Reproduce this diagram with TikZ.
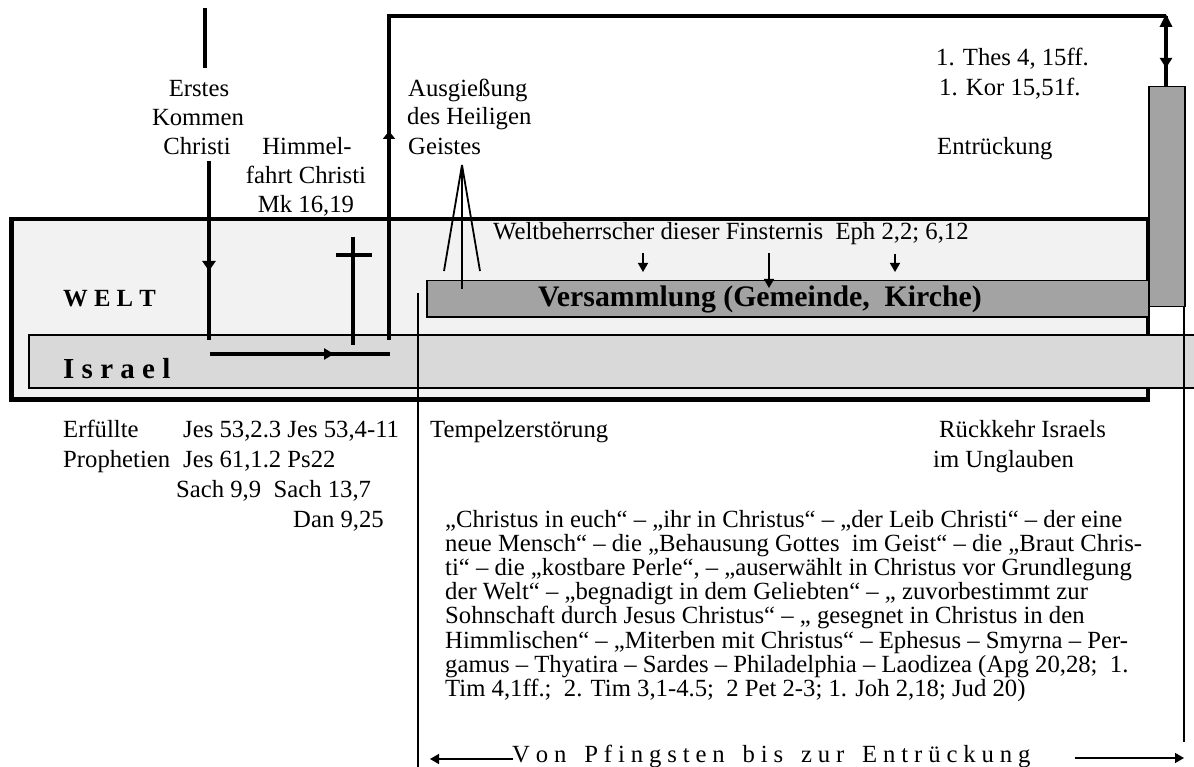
\documentclass[tikz,border=0pt]{standalone}
\usepackage{fontspec}
\setmainfont{Liberation Serif}
\usetikzlibrary{arrows.meta}
\definecolor{weltfill}{HTML}{F2F2F2}
\definecolor{israelfill}{HTML}{D9D9D9}
\definecolor{gemfill}{HTML}{A3A3A3}
\makeatletter
\newcommand\lsp[1]{\@tfor\lspch:=#1\do{\lspch\kern5.9pt}}
\makeatother
\begin{document}
\begin{tikzpicture}[x=1pt,y=-1pt,
  thk/.style={line width=4.5pt},
  thn/.style={line width=1.5pt},
  fanline/.style={line width=1.8pt},
  bigtip/.tip={Triangle[length=10pt,width=13pt]},
  smalltip/.tip={Triangle[length=9pt,width=10pt]},
  tx/.style={inner sep=0pt,anchor=base west,font=\fontsize{24.7}{24.2}\selectfont},
  tc/.style={inner sep=0pt,anchor=base,font=\fontsize{24.7}{24.2}\selectfont}]
\useasboundingbox (0,0) rectangle (1194,767);

% boxes
\draw[thk,fill=weltfill] (11.5,219) rectangle (1148,399.5);
\node[draw,thn,fill=gemfill,minimum width=722pt,minimum height=36.5pt,anchor=north west,inner sep=0pt] (gem) at (426,280) {};
\node[font=\bfseries\fontsize{29.8}{30}\selectfont,anchor=base,inner sep=0pt] (gemtxt) at (760,307) {Versammlung (Gemeinde,\ \ Kirche)};
\draw[thn,fill=israelfill] (29,335) rectangle (1200,388);
\node[draw,thn,fill=gemfill,minimum width=36pt,minimum height=220pt,anchor=north west,inner sep=0pt] (entr) at (1148,86) {};
\coordinate (rtop) at (1184,306);
\coordinate (rbot) at (1184,742);
\draw[thn] (rtop) -- (rbot);

\node[font=\bfseries\fontsize{24.7}{25}\selectfont,anchor=base west,inner sep=0pt] (welt) at (63,306) {W E L T};
\node[font=\bfseries\fontsize{29}{30}\selectfont,anchor=base west,inner sep=0pt] (israel) at (63,378) {I s r a e l};

% Erstes Kommen
\coordinate (ek1) at (205,8);
\coordinate (ek2) at (205,68);
\draw[thk] (ek1) -- (ek2);
\coordinate (ek3) at (209,161);
\coordinate (ek4) at (209,340);
\draw[thk] (ek3) -- (ek4);
\draw[thk,-bigtip] (209,250) -- (209,271);

% horizontal arrow in Israel
\coordinate (ha1) at (210,354);
\coordinate (ha2) at (390,354);
\draw[thk] (ha1) -- (ha2);
\draw[thk,-{Triangle[length=10pt,width=11pt]}] (310,354) -- (334,354);

% cross
\coordinate (cr1) at (353,237);
\coordinate (cr2) at (353,345);
\draw[thk] (cr1) -- (cr2);
\draw[thk] (336,255) -- (372,255);

% ascent line
\coordinate (as1) at (389,340);
\coordinate (as2) at (1166,16);
\draw[thk] (as1) |- (as2);
\draw[thk,-{Triangle[length=8pt,width=12pt]}] (389,150) -- (389,131);

% double arrow to Entrueckung
\draw[thk] (as2) -- (entr.north -| as2);
\draw[thk,-{Triangle[length=13pt,width=12pt]}] (1166,40) -- (1166,14);
\draw[thk,-{Triangle[length=10pt,width=12pt]}] (1166,45) -- (1166,68);

% Ausgiessung fan
\coordinate (apex) at (462,165);
\draw[fanline] (apex) -- (444,271);
\draw[fanline] (apex) -- (480,271);
\draw[fanline] (apex) -- (462,289);

% Weltbeherrscher arrows
\draw[thn,-smalltip] (643,253) -- (643,272);
\draw[thn,-smalltip] (769,253) -- (769,288);
\draw[thn,-smalltip] (895,254) -- (895,272);

% Tempelzerstoerung line
\coordinate (tz1) at (418,293);
\coordinate (tz2) at (418,767);
\draw[thn] (tz1) -- (tz2);

% bottom arrows
\coordinate (bl1) at (513,759);
\coordinate (bl2) at (430,759);
\draw[thn,-smalltip] (bl1) -- (bl2);
\coordinate (br1) at (1075,758);
\coordinate (br2) at (1184,758);
\draw[thn,-smalltip] (br1) -- (br2);

% texts top
\node[tc] (t1) at (199,97) {Erstes};
\node[tc] (t2) at (198,126) {Kommen};
\node[tc] (t3) at (197,155) {Christi};
\node[tc] (h1) at (307,155) {Himmel-};
\node[tc] (h2) at (306,184) {fahrt Christi};
\node[tc] (h3) at (306,213) {Mk 16,19};
\node[tx] (a1) at (408,97) {Ausgießung};
\node[tx] (a2) at (407,125) {des Heiligen};
\node[tx] (a3) at (408,155) {Geistes};
\node[tx] (th) at (936,66) {1. Thes 4, 15ff.};
\node[tx] (ko) at (939,96) {1. Kor 15,51f.};
\node[tx] (en) at (937,155) {Entrückung};
\node[tx] (wb) at (493,240) {Weltbeherrscher dieser Finsternis\ \ Eph 2,2; 6,12};

% texts bottom
\node[tx] (e1) at (63,437) {Erfüllte};
\node[tx] (e2) at (63,467) {Prophetien};
\node[tx] (j1) at (183,437) {Jes 53,2.3 Jes 53,4-11};
\node[tx] (j2) at (183,467) {Jes 61,1.2 Ps22};
\node[tx] (j3) at (176,497) {Sach 9,9\ \ Sach 13,7};
\node[tx] (j4) at (293,527) {Dan 9,25};
\node[tx] (tp) at (430,437) {Tempelzerstörung};
\node[tx] (r1) at (939,437) {Rückkehr Israels};
\node[tx] (r2) at (933,467) {im Unglauben};

\node[tx] (p1) at (445,527) {„Christus in euch“ – „ihr in Christus“ – „der Leib Christi“ – der eine};
\node[tx] (p2) at (445,551.2) {neue Mensch“ – die „Behausung Gottes\ \ im Geist“ – die „Braut Chris-};
\node[tx] (p3) at (445,575.4) {ti“ – die „kostbare Perle“, – „auserwählt in Christus vor Grundlegung};
\node[tx] (p4) at (445,599.6) {der Welt“ – „begnadigt in dem Geliebten“ – „ zuvorbestimmt zur};
\node[tx] (p5) at (445,623.8) {Sohnschaft durch Jesus Christus“ – „ gesegnet in Christus in den};
\node[tx] (p6) at (445,648) {Himmlischen“ – „Miterben mit Christus“ – Ephesus – Smyrna – Per-};
\node[tx] (p7) at (445,672.2) {gamus – Thyatira – Sardes – Philadelphia – Laodizea (Apg 20,28;\ \ 1.};
\node[tx] (p8) at (445,696.4) {Tim 4,1ff.;\ \ 2. Tim 3,1-4.5;\ \ 2 Pet 2-3; 1. Joh 2,18; Jud 20)};
\node[tx] (vp) at (512,762) {\lsp{Von}\hspace{11.9pt}\lsp{Pfingsten}\hspace{11.9pt}\lsp{bis}\hspace{11.9pt}\lsp{zur}\hspace{11.9pt}\lsp{Entrückung}};
\end{tikzpicture}
\end{document}
